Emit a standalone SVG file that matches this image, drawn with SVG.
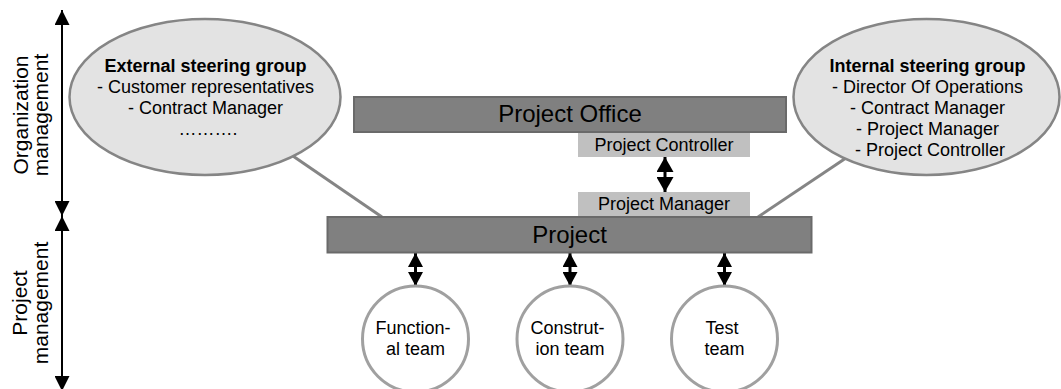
<svg xmlns="http://www.w3.org/2000/svg" width="1061" height="389" viewBox="0 0 1061 389">
  <style>
    text { font-family: "Liberation Sans", Arial, sans-serif; fill: #000; }
    .t18 { font-size: 18px; }
    .t24 { font-size: 24px; }
    .axis-label { font-size: 21px; }
    .bold { font-weight: bold; }
    .bar { fill: #808080; stroke: #6a6a6a; stroke-width: 2; }
    .role { fill: #c0c0c0; }
    .group { fill: #e3e3e3; stroke: #858585; stroke-width: 2.5; }
    .team { fill: #ffffff; stroke: #a0a0a0; stroke-width: 3; }
    .link { stroke: #858585; stroke-width: 3; fill: none; }
    .axis { stroke: #000; stroke-width: 2; fill: none; }
    .dbl { stroke: #000; stroke-width: 3; fill: none; }
  </style>
  <defs>
    <marker id="axisHead" viewBox="0 0 10 10" refX="10" refY="5" markerUnits="userSpaceOnUse" markerWidth="15" markerHeight="15" preserveAspectRatio="none" orient="auto-start-reverse">
      <path d="M0,0 L10,5 L0,10 z" fill="#000"/>
    </marker>
    <marker id="bigHead" viewBox="0 0 10 10" refX="10" refY="5" markerUnits="userSpaceOnUse" markerWidth="15" markerHeight="17" preserveAspectRatio="none" orient="auto-start-reverse">
      <path d="M0,0 L10,5 L0,10 z" fill="#000"/>
    </marker>
    <marker id="teamHead" viewBox="0 0 10 10" refX="10" refY="5" markerUnits="userSpaceOnUse" markerWidth="14" markerHeight="15" preserveAspectRatio="none" orient="auto-start-reverse">
      <path d="M0,0 L10,5 L0,10 z" fill="#000"/>
    </marker>
  </defs>

  <!-- management level axis -->
  <g id="axis">
    <line class="axis" x1="62" y1="10" x2="62" y2="216" marker-start="url(#axisHead)" marker-end="url(#axisHead)"/>
    <line class="axis" x1="62" y1="216" x2="62" y2="391" marker-start="url(#axisHead)" marker-end="url(#axisHead)"/>
    <text class="axis-label" transform="translate(28,115) rotate(-90)" text-anchor="middle">Organization</text>
    <text class="axis-label" transform="translate(48,115) rotate(-90)" text-anchor="middle">management</text>
    <text class="axis-label" transform="translate(27,303) rotate(-90)" text-anchor="middle">Project</text>
    <text class="axis-label" transform="translate(48,303) rotate(-90)" text-anchor="middle">management</text>
  </g>

  <!-- connectors -->
  <g id="connectors">
    <line class="link" x1="290" y1="154" x2="382" y2="217"/>
    <line class="link" x1="846" y1="158" x2="758" y2="217"/>
    <line class="dbl" x1="665" y1="157" x2="665" y2="192" marker-start="url(#bigHead)" marker-end="url(#bigHead)"/>
    <line class="dbl" x1="415.5" y1="253" x2="415.5" y2="286" marker-start="url(#teamHead)" marker-end="url(#teamHead)"/>
    <line class="dbl" x1="570" y1="253" x2="570" y2="286" marker-start="url(#teamHead)" marker-end="url(#teamHead)"/>
    <line class="dbl" x1="724.5" y1="253" x2="724.5" y2="286" marker-start="url(#teamHead)" marker-end="url(#teamHead)"/>
  </g>

  <g id="external-steering-group">
    <ellipse class="group" cx="205" cy="97" rx="135.5" ry="78"/>
    <text class="t18" text-anchor="middle">
      <tspan class="bold" x="208" y="71.5">External steering group</tspan>
      <tspan x="208" y="92.5">- Customer representatives</tspan>
      <tspan x="208" y="113.5">- Contract Manager</tspan>
      <tspan x="208" y="134.5">……….</tspan>
    </text>
  </g>

  <g id="internal-steering-group">
    <ellipse class="group" cx="926.5" cy="97" rx="133" ry="78"/>
    <text class="t18" text-anchor="middle">
      <tspan class="bold" x="930" y="71.5">Internal steering group</tspan>
      <tspan x="930" y="92.5">- Director Of Operations</tspan>
      <tspan x="930" y="113.5">- Contract Manager</tspan>
      <tspan x="930" y="134.5">- Project Manager</tspan>
      <tspan x="930" y="155.5">- Project Controller</tspan>
    </text>
  </g>

  <g id="project-office">
    <rect class="bar" x="354" y="97" width="432" height="35"/>
    <text class="t24" x="570" y="122" text-anchor="middle">Project Office</text>
  </g>

  <g id="project-controller">
    <rect class="role" x="578" y="133" width="172" height="24"/>
    <text class="t18" x="664" y="150.5" text-anchor="middle">Project Controller</text>
  </g>

  <g id="project-manager">
    <rect class="role" x="578" y="192" width="172" height="25"/>
    <text class="t18" x="664" y="210" text-anchor="middle">Project Manager</text>
  </g>

  <g id="project">
    <rect class="bar" x="327.5" y="217" width="484" height="35.5"/>
    <text class="t24" x="569.5" y="242.5" text-anchor="middle">Project</text>
  </g>

  <g id="functional-team">
    <circle class="team" cx="415.5" cy="339" r="53"/>
    <text class="t18" text-anchor="middle">
      <tspan x="415.5" y="333.5">Function-</tspan>
      <tspan x="415.5" y="354.5">al team</tspan>
    </text>
  </g>

  <g id="construction-team">
    <circle class="team" cx="570" cy="339" r="53"/>
    <text class="t18" text-anchor="middle">
      <tspan x="570" y="333.5">Construt-</tspan>
      <tspan x="570" y="354.5">ion team</tspan>
    </text>
  </g>

  <g id="test-team">
    <circle class="team" cx="724.5" cy="339" r="53"/>
    <text class="t18" text-anchor="middle">
      <tspan x="724.5" y="333.5">Test</tspan>
      <tspan x="724.5" y="354.5">team</tspan>
    </text>
  </g>
</svg>
